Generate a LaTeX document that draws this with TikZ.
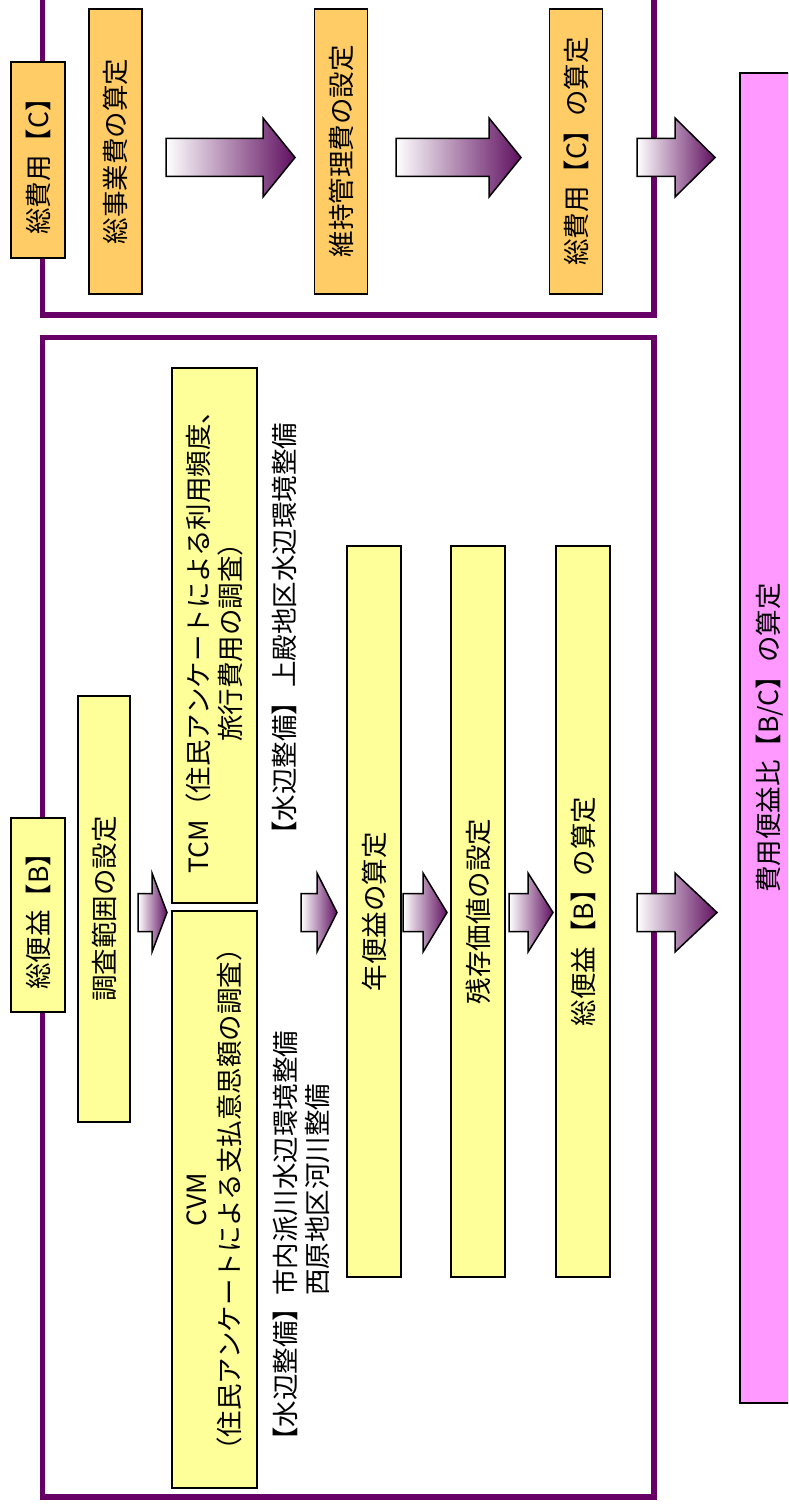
\documentclass[tikz,border=0pt]{standalone}
\usepackage{fontspec}
\setmainfont{Noto Sans CJK JP}
\definecolor{frameP}{RGB}{102,0,102}
\definecolor{boxO}{RGB}{255,204,102}
\definecolor{boxY}{RGB}{255,255,153}
\definecolor{boxP}{RGB}{255,153,255}
\definecolor{arrP}{RGB}{96,16,96}
\tikzset{
  outerframe/.style={draw=frameP, line width=5.5pt},
  vbox/.style={draw=black, line width=1.5pt, rotate=90, inner sep=0pt,
    font=\fontsize{26.5}{32.5}\selectfont, align=center},
  obox/.style={vbox, fill=boxO},
  ybox/.style={vbox, fill=boxY},
  pbox/.style={vbox, fill=boxP},
  vtext/.style={rotate=90, inner sep=0pt, font=\fontsize{26.5}{32}\selectfont},
  blockarrow/.style={draw=black, line width=1.5pt, left color=white, right color=arrP, line join=miter},
}
\newcommand\myblockarrow[4]{%
  \path[blockarrow] (#1,{#4-19}) -- (#2,{#4-19}) -- (#2,{#4-39.5}) -- (#3,#4)
    -- (#2,{#4+39.5}) -- (#2,{#4+19}) -- (#1,{#4+19}) -- cycle;}
\begin{document}
\begin{tikzpicture}[x=1pt,y=-1pt]
\useasboundingbox (0,0) rectangle (788,1506);
\clip (0,0) rectangle (788,1506);
\fill[white] (0,0) rectangle (788,1506);
% frames
\draw[outerframe] (42.5,-40) rectangle (654,315);
\draw[outerframe] (42.5,337.5) rectangle (654,1497);
% cost section
\node[obox, minimum width=196pt, minimum height=54pt] (lblC) at (38,160) {総費用【C】};
\node[obox, minimum width=285pt, minimum height=53pt] (c1) at (115.5,151.5) {総事業費の算定};
\node[obox, minimum width=285pt, minimum height=53pt] (c2) at (341,151.5) {維持管理費の設定};
\node[obox, minimum width=285pt, minimum height=53pt] (c3) at (576,151.5) {総費用【C】の算定};
\myblockarrow{166}{263}{295}{157.5}
\myblockarrow{396}{489}{521}{157.5}
\myblockarrow{637}{675}{715}{157.5}
% benefit section
\node[ybox, minimum width=194pt, minimum height=54pt] (lblB) at (38,915) {総便益【B】};
\node[ybox, minimum width=426pt, minimum height=52pt] (b0) at (104,909) {調査範囲の設定};
\node[ybox, minimum width=535pt, minimum height=85pt] (tcm) at (214.5,635.5) {TCM（住民アンケートによる利用頻度、\\旅行費用の調査）};
\node[ybox, minimum width=577pt, minimum height=85pt] (cvm) at (214.5,1199.5) {CVM\\（住民アンケートによる支払意思額の調査）};
\node[vtext] (w1) at (284,768) {【水辺整備】};
\node[vtext, anchor=west] (w1b) at (284,688) {上殿地区水辺環境整備};
\node[vtext] (w2) at (285,1374) {【水辺整備】};
\node[vtext, anchor=west, align=left] (w2b) at (301,1296) {市内派川水辺環境整備\\西原地区河川整備};
\node[ybox, minimum width=731pt, minimum height=54pt] (b1) at (374,911.5) {年便益の算定};
\node[ybox, minimum width=731pt, minimum height=54pt] (b2) at (478,911.5) {残存価値の設定};
\node[ybox, minimum width=731pt, minimum height=54pt] (b3) at (583,911.5) {総便益【B】の算定};
\myblockarrow{138}{152}{167}{912.5}
\myblockarrow{301}{317}{337}{912.5}
\myblockarrow{403}{423}{447}{912.5}
\myblockarrow{509}{528}{553}{912.5}
\myblockarrow{637}{675}{717}{912.5}
% result (box runs past the right edge of the picture)
\node[pbox, minimum width=1330pt, minimum height=80pt] (bc) at (780,738) {};
\node[vtext] (bct) at (770,738) {費用便益比【B/C】の算定};
\end{tikzpicture}
\end{document}
